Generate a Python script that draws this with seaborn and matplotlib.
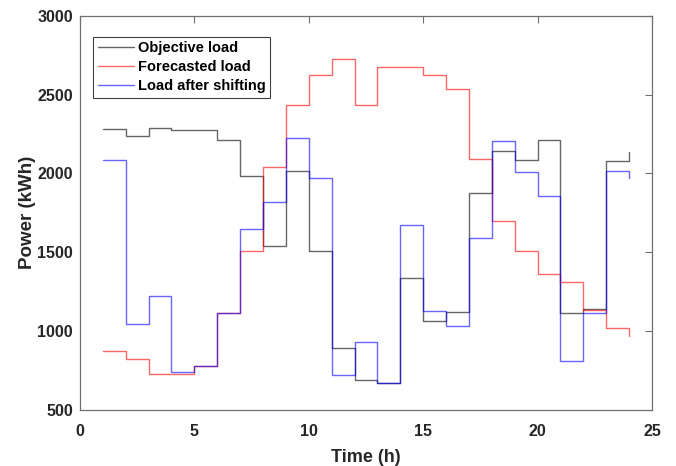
import numpy as np
import pandas as pd
import matplotlib
matplotlib.use("Agg")
import matplotlib.pyplot as plt
import seaborn as sns

# Hourly load profiles (kWh), hours 1..24
hours = list(range(1, 25))
objective_load = [2283, 2238, 2285, 2274, 2274, 2215, 1981, 1542, 2015, 1508, 890, 690,
                  673, 1338, 1063, 1124, 1878, 2143, 2082, 2215, 1118, 1139, 2080, 2135]
forecasted_load = [871, 821, 728, 728, 776, 1116, 1508, 2040, 2435, 2627, 2724, 2435,
                   2673, 2673, 2627, 2534, 2091, 1700, 1506, 1363, 1312, 1132, 1017, 970]
shifted_load = [2082, 1044, 1224, 740, 776, 1116, 1646, 1816, 2226, 1970, 724, 930,
                673, 1671, 1129, 1030, 1591, 2203, 2006, 1859, 810, 1114, 2017, 1970]

series_names = ["Objective load", "Forecasted load", "Load after shifting"]
series_colors = ["#000000", "#ff0000", "#0000ff"]
x_ticks = [0, 5, 10, 15, 20, 25]
y_ticks = [500, 1000, 1500, 2000, 2500, 3000]

df = pd.concat([
    pd.DataFrame({"Time": hours, "Power": vals, "Series": name})
    for name, vals in zip(series_names, [objective_load, forecasted_load, shifted_load])
])

sns.set_theme(style="white")
plt.rcParams["font.family"] = ["Liberation Sans", "DejaVu Sans"]
plt.rcParams["font.weight"] = "bold"

fig = plt.figure(figsize=(6.76, 4.66), dpi=100)
ax = fig.add_axes([0.1183, 0.1202, 0.8462, 0.8461])

sns.lineplot(data=df, x="Time", y="Power", hue="Series", hue_order=series_names,
             palette=series_colors, drawstyle="steps-post", estimator=None,
             linewidth=1.0, alpha=0.6, ax=ax)

ax.set_xlim(0, 25)
ax.set_ylim(500, 3000)
ax.set_xticks(x_ticks)
ax.set_yticks(y_ticks)
ax.tick_params(axis="both", which="both", direction="in", length=5, width=0.8,
               colors="#707070", labelcolor="#262626", labelsize=11.5,
               top=True, right=True)
ax.tick_params(axis="x", pad=10)
ax.tick_params(axis="y", pad=5)
for lab in ax.get_xticklabels() + ax.get_yticklabels():
    lab.set_fontweight("bold")
for sp in ax.spines.values():
    sp.set_color("#707070")
    sp.set_linewidth(0.9)

ax.set_xlabel("Time (h)", fontsize=13, fontweight="bold", color="#262626", labelpad=7)
ax.set_ylabel("Power (kWh)", fontsize=13.5, fontweight="bold", color="#262626", labelpad=1)

leg = ax.legend(loc="upper left", bbox_to_anchor=(0.023, 0.947), fontsize=10.5,
                frameon=True, fancybox=False, edgecolor="#404040", framealpha=1,
                handlelength=2.5, handletextpad=0.3, borderpad=0.3, labelspacing=0.35,
                borderaxespad=0)
leg.get_frame().set_linewidth(0.8)
for t in leg.get_texts():
    t.set_fontweight("bold")
    t.set_color("#000000")

fig.savefig("out.png", dpi=100)
